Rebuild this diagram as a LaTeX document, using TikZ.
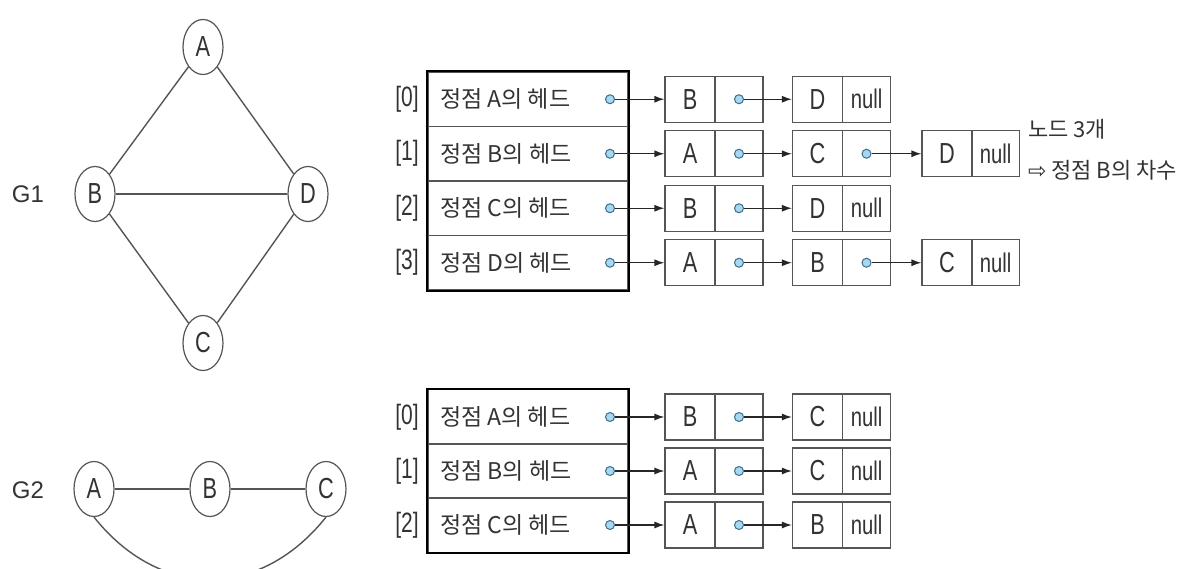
\documentclass[tikz,border=0pt]{standalone}
\usepackage{fontspec}
\setmainfont{Liberation Sans}
\newfontfamily\kr{Noto Sans CJK KR}
\newfontfamily\nf[FakeStretch=0.75]{Liberation Sans}
\newfontfamily\dv{DejaVu Sans}
\usetikzlibrary{arrows.meta,shapes.geometric}
\definecolor{ink}{HTML}{333333}
\definecolor{edgec}{HTML}{555555}
\definecolor{dotfill}{HTML}{A8D8F0}
\definecolor{dotline}{HTML}{3C6E8C}
\tikzset{
 vtx/.style={ellipse, draw=edgec, line width=1.2pt, minimum width=40pt, minimum height=55pt, inner sep=0pt, text=ink, font=\nf\fontsize{29}{30}\selectfont},
 gedge/.style={draw=edgec, line width=1.4pt},
 glabel/.style={text=ink, font=\fontsize{24}{26}\selectfont, inner sep=0pt},
 headrow/.style={rectangle, draw=edgec, line width=1.3pt, minimum width=200pt, minimum height=54.5pt, inner sep=0pt},
 headtext/.style={anchor=west, text=ink, font=\kr\fontsize{23}{25}\selectfont, inner sep=0pt},
 idx/.style={text=ink, font=\nf\fontsize{28}{30}\selectfont, inner sep=0pt},
 cell/.style={rectangle, draw=edgec, line width=1.2pt, minimum height=46pt, inner sep=0pt, text=ink, font=\nf\fontsize{29}{30}\selectfont},
 dcell/.style={cell, minimum width=50pt},
 pcell/.style={cell, minimum width=48pt},
 nullcell/.style={cell, minimum width=48pt, font=\nf\fontsize{27}{28}\selectfont},
 ptdot/.style={circle, draw=dotline, fill=dotfill, line width=1pt, minimum size=9pt, inner sep=0pt},
 ptr/.style={draw=black!85, line width=1.2pt, -{Latex[length=10pt,width=7pt]}},
 note/.style={anchor=west, text=ink, font=\kr\fontsize{22}{24}\selectfont, inner sep=0pt},
}
% head row: name, y, index, letter
\newcommand\hrow[4]{%
 \node[headrow] (#1) at (528,#2) {};
 \node[headtext] (#1t) at (440,#2) {정점 #4의 헤드};
 \node[idx] (#1i) at (407,#2) {[#3]};
 \node[ptdot] (#1o) at (610,#2) {};
}
% list node with pointer: name, x data center, x ptr center, y, letter
\newcommand\lnode[5]{%
 \node[dcell] (#1d) at (#2,#4) {#5};
 \node[pcell] (#1p) at (#3,#4) {};
 \node[ptdot] (#1o) at (#1p) {};
}
% list node ending with null
\newcommand\lnull[5]{%
 \node[dcell] (#1d) at (#2,#4) {#5};
 \node[nullcell] (#1p) at (#3,#4) {null};
}
\begin{document}
\begin{tikzpicture}[x=1pt,y=-1pt]
\useasboundingbox (0,0) rectangle (1193,569);
\fill[white] (0,0) rectangle (1193,569);

% ---------- G1 graph ----------
\node[glabel] (g1) at (28,194) {G1};
\node[vtx] (ga) at (203,47) {A};
\node[vtx] (gb) at (95,194) {B};
\node[vtx] (gd) at (308,194) {D};
\node[vtx] (gc) at (203,343) {C};
\draw[gedge] (ga) -- (gb);
\draw[gedge] (ga) -- (gd);
\draw[gedge] (gb) -- (gd);
\draw[gedge] (gb) -- (gc);
\draw[gedge] (gd) -- (gc);

% ---------- G2 graph ----------
\node[glabel] (g2) at (28,490) {G2};
\node[vtx] (ha) at (94,489) {A};
\node[vtx] (hb) at (210,489) {B};
\node[vtx] (hc) at (326,489) {C};
\draw[gedge] (ha) -- (hb);
\draw[gedge] (hb) -- (hc);
\draw[gedge] (ha.south) .. controls (160,600) and (260,600) .. (hc.south);

% ---------- G1 adjacency list ----------
\hrow{r0}{99.25}{0}{A}
\hrow{r1}{153.75}{1}{B}
\hrow{r2}{208.25}{2}{C}
\hrow{r3}{262.75}{3}{D}
\draw[line width=2.2pt, black] (r0.north west) rectangle (r3.south east);

\lnode{a1}{690}{739}{99.25}{B}
\lnull{a2}{817.5}{866.5}{99.25}{D}
\lnode{b1}{690}{739}{153.75}{A}
\lnode{b2}{817.5}{866.5}{153.75}{C}
\lnull{b3}{947}{995.5}{153.75}{D}
\lnode{c1}{690}{739}{208.25}{B}
\lnull{c2}{817.5}{866.5}{208.25}{D}
\lnode{d1}{690}{739}{262.75}{A}
\lnode{d2}{817.5}{866.5}{262.75}{B}
\lnull{d3}{947}{995.5}{262.75}{C}

\draw[ptr] (r0o) -- (a1d.west);
\draw[ptr] (a1o) -- (a2d.west);
\draw[ptr] (r1o) -- (b1d.west);
\draw[ptr] (b1o) -- (b2d.west);
\draw[ptr] (b2o) -- (b3d.west);
\draw[ptr] (r2o) -- (c1d.west);
\draw[ptr] (c1o) -- (c2d.west);
\draw[ptr] (r3o) -- (d1d.west);
\draw[ptr] (d1o) -- (d2d.west);
\draw[ptr] (d2o) -- (d3d.west);

\node[note] (n1) at (1028,129) {노드 3개};
\node[note] (n2) at (1028,170) {{\dv\fontsize{22}{24}\selectfont ⇨} 정점 B의 차수};

% ---------- G2 adjacency list ----------
\hrow{s0}{417}{0}{A}
\hrow{s1}{471}{1}{B}
\hrow{s2}{525}{2}{C}
\draw[line width=2.2pt, black] (s0.north west) rectangle (s2.south east);

\lnode{e1}{690}{739}{417}{B}
\lnull{e2}{817.5}{866.5}{417}{C}
\lnode{f1}{690}{739}{471}{A}
\lnull{f2}{817.5}{866.5}{471}{C}
\lnode{k1}{690}{739}{525}{A}
\lnull{k2}{817.5}{866.5}{525}{B}

\draw[ptr] (s0o) -- (e1d.west);
\draw[ptr] (e1o) -- (e2d.west);
\draw[ptr] (s1o) -- (f1d.west);
\draw[ptr] (f1o) -- (f2d.west);
\draw[ptr] (s2o) -- (k1d.west);
\draw[ptr] (k1o) -- (k2d.west);
\end{tikzpicture}
\end{document}
